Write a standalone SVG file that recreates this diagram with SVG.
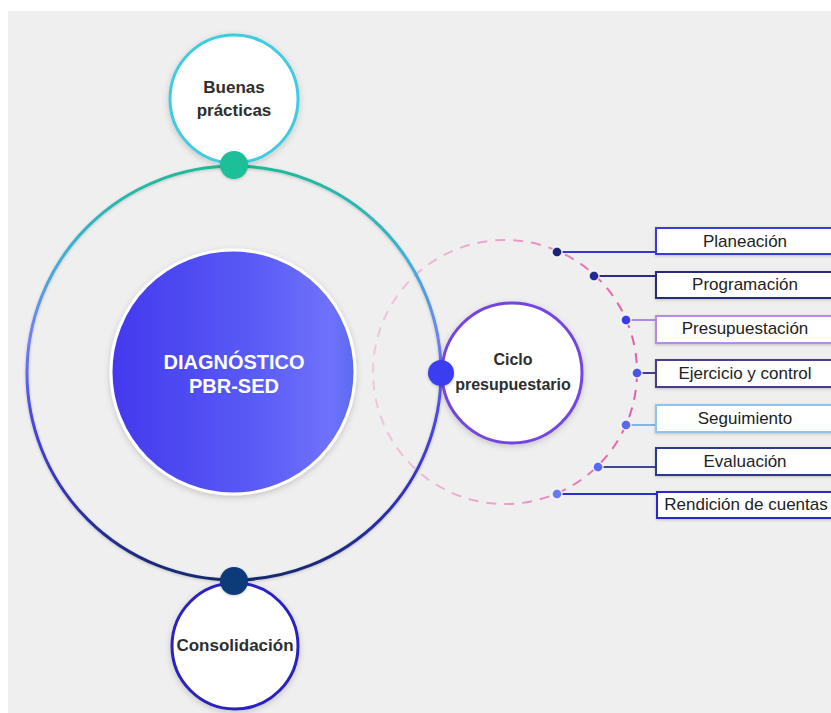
<svg xmlns="http://www.w3.org/2000/svg" width="831" height="713" viewBox="0 0 831 713">
<style>
.lbl{font-family:"Liberation Sans",Arial,sans-serif;font-weight:bold;fill:#2e2e2e;text-anchor:middle}
.box{fill:#fff;stroke-width:2}
.btxt{font-family:"Liberation Sans",Arial,sans-serif;font-size:17px;fill:#222;text-anchor:middle}
.conn{stroke-width:2;fill:none}
.pt{stroke:#fff;stroke-width:1.5;stroke-opacity:0.8}
</style>
<defs>
<filter id="sh" x="-20%" y="-20%" width="140%" height="140%">
<feDropShadow dx="0" dy="2" stdDeviation="3" flood-color="#000" flood-opacity="0.18"/>
</filter>
<filter id="shs" x="-50%" y="-50%" width="200%" height="200%">
<feDropShadow dx="0" dy="1" stdDeviation="1.5" flood-color="#000" flood-opacity="0.2"/>
</filter>
<linearGradient id="ringG" x1="0" y1="166" x2="0" y2="581" gradientUnits="userSpaceOnUse">
<stop offset="0" stop-color="#1dbb98"/>
<stop offset="0.22" stop-color="#3fb0d6"/>
<stop offset="0.42" stop-color="#6f80f0"/>
<stop offset="0.6" stop-color="#4a48e8"/>
<stop offset="0.8" stop-color="#3030b8"/>
<stop offset="1" stop-color="#142a6c"/>
</linearGradient>
<linearGradient id="coreG" x1="0" y1="0" x2="1" y2="0">
<stop offset="0" stop-color="#4338ee"/>
<stop offset="0.6" stop-color="#5a5cf6"/>
<stop offset="0.9" stop-color="#6f72fb"/>
<stop offset="1" stop-color="#5a6af0"/>
</linearGradient>
<linearGradient id="dashG" x1="373" y1="0" x2="637" y2="0" gradientUnits="userSpaceOnUse">
<stop offset="0" stop-color="#f2c6dc"/>
<stop offset="0.5" stop-color="#eaa0c8"/>
<stop offset="1" stop-color="#e060a8"/>
</linearGradient>
</defs>
<rect x="0" y="0" width="831" height="713" fill="#ffffff"/>
<rect x="8" y="11" width="823" height="702" fill="#efefef"/>

<g id="rings">
<circle cx="505" cy="372" r="132" fill="none" stroke="url(#dashG)" stroke-width="2" stroke-dasharray="10 8"/>
<circle cx="234" cy="373" r="207" fill="none" stroke="url(#ringG)" stroke-width="3" filter="url(#shs)"/>
</g>

<g id="connectors">
<line class="conn" x1="557" y1="252" x2="657" y2="252" stroke="#3838d0"/>
<line class="conn" x1="594" y1="276" x2="657" y2="276" stroke="#2a2a88"/>
<line class="conn" x1="626" y1="320" x2="657" y2="320" stroke="#b08ae0"/>
<line class="conn" x1="637" y1="373" x2="657" y2="373" stroke="#4a3a8a"/>
<line class="conn" x1="626" y1="425" x2="657" y2="425" stroke="#7ab6ea"/>
<line class="conn" x1="598" y1="467" x2="657" y2="467" stroke="#3a4a8a"/>
<line class="conn" x1="557" y1="494" x2="657" y2="494" stroke="#2a30d0"/>
</g>

<g id="diagnostico">
<circle cx="233" cy="372" r="122" fill="url(#coreG)" stroke="#fff" stroke-width="3" filter="url(#sh)"/>
<text x="234" y="369" class="lbl" font-size="20" style="fill:#fff">DIAGNÓSTICO</text>
<text x="234" y="393" class="lbl" font-size="20" style="fill:#fff">PBR-SED</text>
</g>

<g id="buenas">
<circle cx="234" cy="99" r="64" fill="#fff" stroke="#40cce0" stroke-width="3" filter="url(#sh)"/>
<text x="234" y="93" class="lbl" font-size="17">Buenas</text>
<text x="234" y="116" class="lbl" font-size="17">prácticas</text>
<circle cx="234" cy="165" r="14" fill="#1bbf98" filter="url(#shs)"/>
</g>

<g id="consolidacion">
<circle cx="235" cy="646" r="63" fill="#fff" stroke="#2a20c0" stroke-width="3" filter="url(#sh)"/>
<text x="235" y="651" class="lbl" font-size="17">Consolidación</text>
<circle cx="234" cy="581" r="14" fill="#0f3a7a" filter="url(#shs)"/>
</g>

<g id="ciclo">
<circle cx="512" cy="373" r="70" fill="#fff" stroke="#7444e0" stroke-width="3" filter="url(#sh)"/>
<text x="513" y="365" class="lbl" font-size="16">Ciclo</text>
<text x="513" y="390" class="lbl" font-size="16">presupuestario</text>
<circle cx="441" cy="373" r="13" fill="#3a3cf0" filter="url(#shs)"/>
</g>

<g id="points">
<circle class="pt" cx="557" cy="252" r="5" fill="#1a2470"/>
<circle class="pt" cx="594" cy="276" r="5" fill="#202a90"/>
<circle class="pt" cx="626" cy="320" r="5" fill="#3a3ae8"/>
<circle class="pt" cx="637" cy="373" r="5" fill="#4a55e8"/>
<circle class="pt" cx="626" cy="425" r="5" fill="#5a6ae8"/>
<circle class="pt" cx="598" cy="467" r="5" fill="#5a6af0"/>
<circle class="pt" cx="557" cy="494" r="5" fill="#6a7af0"/>
</g>

<g id="planeacion">
<rect class="box" x="656" y="228" width="190" height="26" stroke="#3a3ad8" filter="url(#shs)"/>
<text class="btxt" x="745" y="247">Planeación</text>
</g>
<g id="programacion">
<rect class="box" x="656" y="272" width="190" height="26" stroke="#2a2a7a" filter="url(#shs)"/>
<text class="btxt" x="745" y="290">Programación</text>
</g>
<g id="presupuestacion">
<rect class="box" x="656" y="316" width="190" height="27" stroke="#b58be8" filter="url(#shs)"/>
<text class="btxt" x="745" y="334">Presupuestación</text>
</g>
<g id="ejercicio">
<rect class="box" x="656" y="360" width="190" height="27" stroke="#4a3a8a" filter="url(#shs)"/>
<text class="btxt" x="745" y="379">Ejercicio y control</text>
</g>
<g id="seguimiento">
<rect class="box" x="656" y="405" width="190" height="27" stroke="#8ec4ee" filter="url(#shs)"/>
<text class="btxt" x="745" y="424">Seguimiento</text>
</g>
<g id="evaluacion">
<rect class="box" x="656" y="448" width="190" height="27" stroke="#2c3a8a" filter="url(#shs)"/>
<text class="btxt" x="745" y="467">Evaluación</text>
</g>
<g id="rendicion">
<rect class="box" x="657" y="492" width="190" height="26" stroke="#2c28d0" filter="url(#shs)"/>
<text class="btxt" x="746" y="510">Rendición de cuentas</text>
</g>
</svg>
